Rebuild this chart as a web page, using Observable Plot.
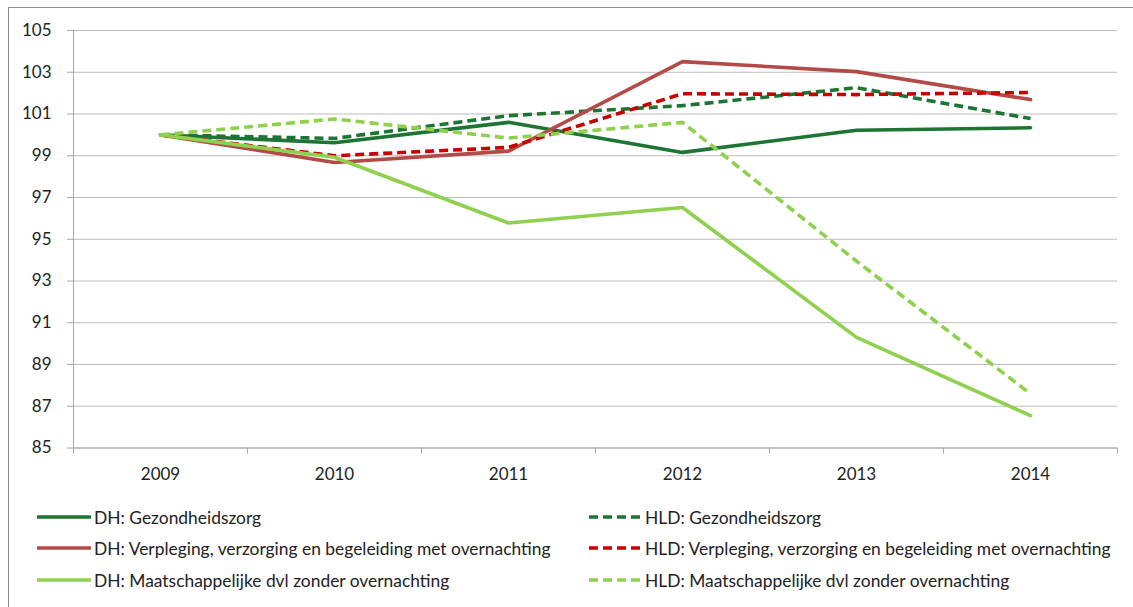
<!DOCTYPE html>
<html>
<head>
<meta charset="utf-8">
<script src="https://cdn.jsdelivr.net/npm/d3@7"></script>
<script src="https://cdn.jsdelivr.net/npm/@observablehq/plot@0.6"></script>
<style>
  html, body { margin: 0; padding: 0; background: #fff; }
  body { width: 1133px; height: 607px; overflow: hidden; position: relative; font-family: Lato, "Open Sans", sans-serif; }
  #frame { position: absolute; left: 8px; top: 7px; width: 1400px; height: 800px; border: 1px solid #8c8c8c; box-sizing: border-box; }
  #chart { position: absolute; left: 0; top: 0; }
  .leg { position: absolute; display: flex; align-items: center; font-size: 17.4px; color: #222; white-space: nowrap; }
  .leg svg { margin-right: 3px; }
</style>
</head>
<body>
<div id="frame"></div>
<div id="chart"></div>
<div id="legend"></div>
<script>
// ---- data ----
const years = [2009, 2010, 2011, 2012, 2013, 2014];
const seriesNames = [
  "DH: Gezondheidszorg",
  "HLD: Gezondheidszorg",
  "DH: Verpleging, verzorging en begeleiding met overnachting",
  "HLD: Verpleging, verzorging en begeleiding met overnachting",
  "DH: Maatschappelijke dvl zonder overnachting",
  "HLD: Maatschappelijke dvl zonder overnachting"
];
const dhGez   = [100, 99.62, 100.60, 99.16, 100.22, 100.34];
const hldGez  = [100, 99.83, 100.92, 101.40, 102.26, 100.78];
const dhVerp  = [100, 98.68, 99.22, 103.51, 103.03, 101.69];
const hldVerp = [100, 99.00, 99.40, 101.97, 101.93, 102.03];
const dhMaat  = [100, 98.93, 95.78, 96.52, 90.30, 86.55];
const hldMaat = [100, 100.76, 99.85, 100.60, 93.95, 87.60];
const yTicks = [85, 87, 89, 91, 93, 95, 97, 99, 101, 103, 105];

// ---- styles (separate from data) ----
const styles = [
  {color: "#1c7533", dash: null},
  {color: "#1c7533", dash: "9,5"},
  {color: "#b24b48", dash: null},
  {color: "#c80000", dash: "9,5"},
  {color: "#8fd04e", dash: null},
  {color: "#8fd04e", dash: "9,5"}
];

const values = [dhGez, hldGez, dhVerp, hldVerp, dhMaat, hldMaat];
const rows = seriesNames.map((name, i) => years.map((yr, j) => ({series: name, year: yr, value: values[i][j]})));

const bounds = [years[0] - 0.5, ...years.map(y => y + 0.5)];
const gridColor = "#bdbdbd";
const axisColor = "#a6a6a6";

const lineMarks = rows.map((data, i) => Plot.line(data, {
  x: "year", y: "value",
  stroke: styles[i].color,
  strokeWidth: 3.6,
  strokeDasharray: styles[i].dash || undefined,
  strokeLinejoin: "round",
  strokeLinecap: styles[i].dash ? "butt" : "round"
}));

const chart = Plot.plot({
  width: 1133,
  height: 490,
  marginLeft: 73,
  marginRight: 16,
  marginTop: 30,
  marginBottom: 42.5,
  style: {fontFamily: "Lato, 'Open Sans', sans-serif", fontSize: "17px", color: "#222", background: "transparent", overflow: "visible"},
  x: {type: "linear", domain: [bounds[0], bounds[bounds.length - 1]]},
  y: {domain: [85, 105]},
  marks: [
    Plot.gridY(yTicks, {stroke: gridColor, strokeOpacity: 1, strokeWidth: 1}),
    Plot.axisY(yTicks, {tickSize: 6, tickPadding: 16, stroke: axisColor, strokeOpacity: 1, label: null, fontSize: 17}),
    Plot.ruleX([bounds[0]], {stroke: axisColor, strokeWidth: 1}),
    Plot.ruleY([85], {stroke: axisColor, strokeWidth: 1}),
    Plot.axisX(bounds, {tickSize: 6, tickFormat: () => "", stroke: axisColor, strokeOpacity: 1, label: null}),
    Plot.axisX(years, {tickSize: 0, tickPadding: 20, tickFormat: d => String(d), label: null, fontSize: 17}),
    ...lineMarks
  ]
});
document.getElementById("chart").appendChild(chart);

// ---- legend (HTML, below the SVG) ----
const legendPos = [
  {left: 37, top: 517}, {left: 588, top: 517},
  {left: 37, top: 548}, {left: 588, top: 548},
  {left: 37, top: 580}, {left: 588, top: 580}
];
const legend = document.getElementById("legend");
seriesNames.forEach((name, i) => {
  const div = document.createElement("div");
  div.className = "leg";
  div.style.left = legendPos[i].left + "px";
  div.style.top = (legendPos[i].top - 11) + "px";
  div.style.height = "22px";
  const keyW = 54;
  const st = styles[i];
  div.innerHTML = `<svg width="${keyW}" height="10"><line x1="1" x2="${keyW - 1}" y1="5" y2="5" stroke="${st.color}" stroke-width="3.6" ${st.dash ? `stroke-dasharray="9,5"` : `stroke-linecap="round"`}/></svg><span>${name}</span>`;
  legend.appendChild(div);
});
</script>
</body>
</html>
